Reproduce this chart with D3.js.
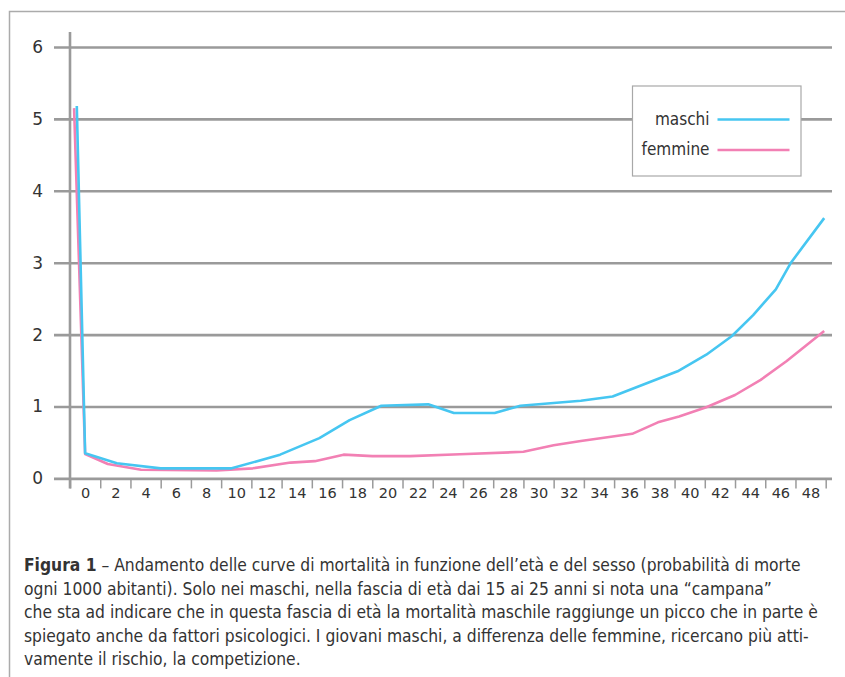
<!DOCTYPE html>
<html>
<head>
<meta charset="utf-8">
<script src="https://cdn.jsdelivr.net/npm/d3@7"></script>
<style>
  body { margin: 0; background: #fff; }
  svg { display: block; }
  .tick text { fill: #333; }
</style>
</head>
<body>
<svg id="chart"></svg>
<script>
// data (age in years, deaths per 1000)
const xLabels = [0, 2, 4, 6, 8, 10, 12, 14, 16, 18, 20, 22, 24, 26, 28, 30, 32, 34, 36, 38, 40, 42, 44, 46, 48];
const yLabels = [0, 1, 2, 3, 4, 5, 6];

const maschiAge = [-0.55, 0, 2.1, 5, 9.7, 12.9, 15.5, 17.5, 19.6, 22.7, 24.4, 27.1, 28.8, 32.8, 34.9, 39.2, 41.1, 42.8, 44.2, 45.7, 46.7, 48.9];
const maschiVal = [5.18, 0.35, 0.21, 0.14, 0.14, 0.33, 0.56, 0.81, 1.01, 1.03, 0.91, 0.91, 1.01, 1.08, 1.14, 1.49, 1.72, 1.98, 2.27, 2.63, 3.0, 3.62];

const femmineAge = [-0.73, 0, 1.5, 3.7, 8.7, 11.1, 13.6, 15.2, 17.1, 19, 21.5, 24.8, 29, 31, 32.8, 36.2, 37.9, 39.3, 41.1, 43, 44.7, 46.4, 48.9];
const femmineVal = [5.15, 0.34, 0.2, 0.12, 0.11, 0.14, 0.22, 0.24, 0.33, 0.31, 0.31, 0.335, 0.37, 0.46, 0.52, 0.62, 0.78, 0.86, 0.99, 1.16, 1.37, 1.63, 2.05];

const seriesNames = ["maschi", "femmine"];
const seriesColors = ["#46c6f1", "#f280b4"];

const captionLines = [
  ["Figura 1", " – Andamento delle curve di mortalità in funzione dell’età e del sesso (probabilità di morte"],
  ["", "ogni 1000 abitanti). Solo nei maschi, nella fascia di età dai 15 ai 25 anni si nota una “campana”"],
  ["", "che sta ad indicare che in questa fascia di età la mortalità maschile raggiunge un picco che in parte è"],
  ["", "spiegato anche da fattori psicologici. I giovani maschi, a differenza delle femmine, ricercano più atti-"],
  ["", "vamente il rischio, la competizione."]
];

const W = 845, H = 677;
const gray = "#9a9a9a";
const narrow = "'DejaVu Sans Condensed', sans-serif";

const svg = d3.select("#chart").attr("width", W).attr("height", H);

// outer frame (left + top only)
svg.append("path")
  .attr("d", `M9.5,${H} V11.5 H${W}`)
  .attr("fill", "none")
  .attr("stroke", "#ababab")
  .attr("stroke-width", 1.5);

// SCALES
const x = d3.scaleLinear().domain([-1, 49]).range([70, 825.7]);
const y = d3.scaleLinear().domain([0, 6]).range([478.4, 47]);

// GRID + Y LABELS
const yAxis = svg.append("g")
  .attr("transform", "translate(70,0)")
  .call(d3.axisLeft(y).tickValues(yLabels).tickSize(16).tickPadding(11).tickFormat(d3.format("d")));
yAxis.select(".domain").remove();
yAxis.selectAll(".tick line")
  .attr("x2", 762).attr("x1", -16)
  .attr("stroke", gray).attr("stroke-width", 2.6);
yAxis.selectAll(".tick text")
  .attr("x", -27)
  .style("font-family", "'DejaVu Sans', sans-serif")
  .style("font-size", "17px");

// X TICKS (between labels)
const oddTicks = xLabels.map(d => d - 1).concat([49]);
const xTicks = svg.append("g")
  .attr("transform", `translate(0,${y(0)})`)
  .call(d3.axisBottom(x).tickValues(oddTicks).tickSize(10).tickFormat(""));
xTicks.select(".domain").remove();
xTicks.selectAll(".tick line").attr("stroke", gray).attr("stroke-width", 1.5);

// X LABELS
const xAxis = svg.append("g")
  .attr("transform", `translate(0,${y(0)})`)
  .call(d3.axisBottom(x).tickValues(xLabels).tickSize(0).tickPadding(9).tickFormat(d3.format("d")));
xAxis.select(".domain").remove();
xAxis.selectAll(".tick text")
  .style("font-family", "'DejaVu Sans', sans-serif")
  .style("font-size", "14.5px");

// Y AXIS LINE
svg.append("line")
  .attr("x1", 70).attr("x2", 70)
  .attr("y1", 32).attr("y2", y(0) + 10)
  .attr("stroke", gray).attr("stroke-width", 2.6);

// LINES
const lineGen = d3.line()
  .x(d => x(d[0]))
  .y(d => y(d[1]));

const series = [
  d3.zip(femmineAge, femmineVal),
  d3.zip(maschiAge, maschiVal)
];
const seriesCol = [seriesColors[1], seriesColors[0]];

series.forEach((s, i) => {
  svg.append("path")
    .datum(s)
    .attr("fill", "none")
    .attr("stroke", seriesCol[i])
    .attr("stroke-width", 2.6)
    .attr("stroke-linejoin", "round")
    .attr("d", lineGen);
});

// LEGEND
const legend = svg.append("g").attr("transform", "translate(632.5,86)");
legend.append("rect")
  .attr("width", 168.5).attr("height", 90)
  .attr("fill", "#fff")
  .attr("stroke", "#a8a8a8").attr("stroke-width", 1.2);

seriesNames.forEach((name, i) => {
  const ly = 33.5 + i * 30.5;
  legend.append("text")
    .attr("x", 77).attr("y", ly + 5)
    .attr("text-anchor", "end")
    .style("font-family", narrow)
    .style("font-size", "17px")
    .style("fill", "#333")
    .text(name);
  legend.append("line")
    .attr("x1", 85).attr("x2", 157)
    .attr("y1", ly).attr("y2", ly)
    .attr("stroke", seriesColors[i])
    .attr("stroke-width", 2.6);
});

// CAPTION
const cap = svg.append("g");
captionLines.forEach((ln, i) => {
  const t = cap.append("text")
    .attr("x", 24)
    .attr("y", 571 + i * 23.6)
    .style("font-family", narrow)
    .style("font-size", "17.3px")
    .style("fill", "#333");
  if (ln[0]) t.append("tspan").style("font-weight", "bold").text(ln[0]);
  t.append("tspan").text(ln[1]);
});
</script>
</body>
</html>
